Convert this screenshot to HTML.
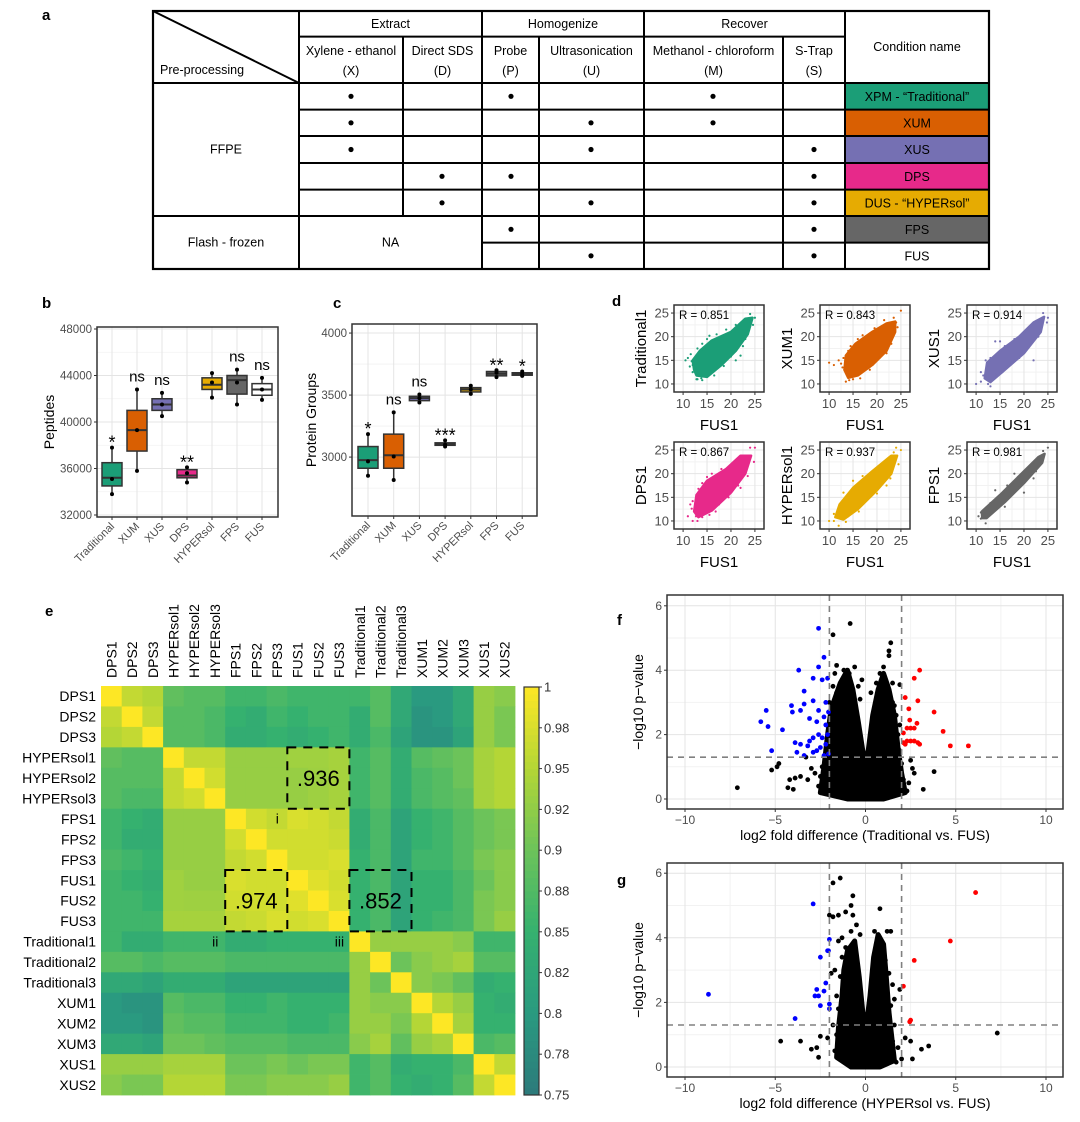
<!DOCTYPE html>
<html><head><meta charset="utf-8"><style>
html,body{margin:0;padding:0;background:#fff;}
svg{display:block;font-family:"Liberation Sans",Arial,sans-serif;}
</style></head><body>
<svg id="fig" width="1080" height="1122" viewBox="0 0 1080 1122"></svg>
<script>
const NS='http://www.w3.org/2000/svg';
const svg=document.getElementById('fig');
function mk(tag,attrs,parent){const e=document.createElementNS(NS,tag);for(const k in attrs)e.setAttribute(k,attrs[k]);(parent||svg).appendChild(e);return e;}
function txt(s,attrs,parent){const e=mk('text',attrs,parent);e.textContent=s;return e;}

/* ---------------- data ---------------- */
const condNames=['XPM - \u201CTraditional\u201D','XUM','XUS','DPS','DUS - \u201CHYPERsol\u201D','FPS','FUS'];
const condColors=['#1b9e77','#d95f02','#7570b3','#e7298a','#e6ab02','#666666','#ffffff'];
const condSteps=[['X','P','M'],['X','U','M'],['X','U','S'],['D','P','S'],['D','U','S'],['P','S'],['U','S']];

const bCats=['Traditional','XUM','XUS','DPS','HYPERsol','FPS','FUS'];
const bQ1=[34500,37500,41000,35200,42800,42400,42300];
const bMed=[35200,39300,41500,35400,43200,43600,42800];
const bQ3=[36500,41000,42000,35900,43800,44000,43300];
const bMin=[33800,35800,40500,34800,42100,41500,41900];
const bMax=[37800,42800,42500,36100,44200,44500,43800];
const bPts=[[33800,35100,37800],[35800,39300,42800],[40500,41500,42500],[34800,35600,36100],[42100,43400,44200],[41500,43400,44500],[41900,42800,43800]];
const bSig=['*','ns','ns','**','','ns','ns'];
const bTicks=[32000,36000,40000,44000,48000];

const cQ1=[2910,2910,3455,3095,3525,3655,3660];
const cMed=[2975,3015,3475,3105,3545,3672,3670];
const cQ3=[3085,3185,3490,3115,3560,3690,3680];
const cMin=[2850,2815,3440,3085,3510,3645,3655];
const cMax=[3185,3360,3505,3135,3575,3700,3690];
const cPts=[[2850,2965,3185],[2815,3005,3360],[3440,3475,3505],[3085,3100,3135],[3510,3545,3575],[3645,3680,3700],[3655,3670,3690]];
const cSig=['*','ns','ns','***','','**','*'];
const cTicks=[3000,3500,4000];

const dNames=['Traditional1','XUM1','XUS1','DPS1','HYPERsol1','FPS1'];
const dR=['R = 0.851','R = 0.843','R = 0.914','R = 0.867','R = 0.937','R = 0.981'];
const dColors=['#1b9e77','#d95f02','#7570b3','#e7298a','#e6ab02','#666666'];
const dEnv=[
 [[12.3,13],[12.8,11.8],[15,11.5],[18,14],[21,17],[23.5,20.5],[24.5,24],[23,23.8],[20,21],[16,19.2],[13.5,17],[12,15]],
 [[13.2,13],[14,11.3],[16,11.8],[19,14],[22,17],[23.8,21],[23.8,23.2],[22,22.8],[19,21],[15.5,18.5],[13.5,16]],
 [[11.8,11.2],[13,10.4],[16,13],[20,16.5],[23.5,21],[24.2,24.2],[22,23],[19,20],[15,17],[12.3,14.5]],
 [[12.3,12],[13.2,10.8],[16,12.2],[20,16],[23,20],[24.2,23.8],[22,23.8],[19,21],[15,18.5],[12.8,15.5]],
 [[11.3,10.8],[13,10.3],[16,12.5],[20,16.5],[23,20],[24.2,23.8],[23,23.8],[19,20.5],[15,17],[12.2,13.5]],
 [[11.3,10.6],[12.2,10.6],[16,14],[20,18],[23.8,22.3],[24.3,24.2],[23,23.5],[19,19.5],[15,15.5],[11.2,12]]];
const dOut=[
 [[10.5,15],[11,15.5],[12,14],[13,11],[14,10.8],[21,15],[22,16],[24,24.8],[25,24],[17,20.5],[14,18.5],[11.6,16.3],[12,12.5],[11.8,14.8],[13,17.5],[15,19.5],[16.5,11.8],[18.5,13.8],[20,15.8],[22.5,18],[23,19.5],[12.8,11],[11.4,13.7],[19,21.5],[21,22.5],[24.6,22.5],[15.5,20.2],[13.8,11.2]],
 [[10,14.5],[11,14],[12,15],[13.5,10.5],[15,11],[22,16.5],[24,23],[25,25.5],[16,19.5],[14,17],[12.8,13.5],[13,15.5],[14.5,18],[16.5,11.2],[18.5,13],[20.5,15.5],[23,18.5],[24.3,22],[17,20.3],[19.5,21.8],[12.5,14.3],[14.2,10.8],[21.5,23.5],[23.5,24]],
 [[10,10],[11,10.5],[13,9.5],[14,19],[15,19],[22,15],[24,25],[25,24],[12,15],[11,12.5],[11.5,11.8],[12.5,10],[14,12],[13,15.5],[17,14.5],[19,15.5],[21,18],[23,20],[24.8,23],[16,18],[20,21],[12.2,13.8],[15.5,12.5],[18,19.5]],
 [[11,11],[12,10],[13,10],[22,17],[24,25.5],[25,25.5],[16,20],[14,18],[11.5,13.5],[12,14.2],[12.7,11],[14,10.8],[15.5,11.3],[17.5,13.5],[19.5,15],[21.5,17.5],[23.5,19.5],[24.8,22.5],[21,22.8],[18,21],[13.2,16.8],[11.8,12.6],[16.8,12],[15,19.3]],
 [[10,10],[11,10],[12,9],[22,17.5],[24,25.5],[25,25],[15,18.5],[13,16],[11,11.5],[12.5,13],[14,11],[16.2,12],[18,14.5],[20,15.8],[22.8,19],[24.5,22],[21,21.5],[17,19.5],[12,12],[13.5,9.8],[23.5,24.5]],
 [[10.5,11],[11,10.5],[12,9.5],[14,16.5],[16,13],[20,16],[22,19],[24,24.8],[25,25.5],[18,20],[11,11.8],[12.5,12.5],[13.5,12],[15,14.8],[17,15],[19,17.5],[21,19.8],[22.5,20.5],[16.5,17.5],[13,13.8]]];

const hmLabels=['DPS1','DPS2','DPS3','HYPERsol1','HYPERsol2','HYPERsol3','FPS1','FPS2','FPS3','FUS1','FUS2','FUS3','Traditional1','Traditional2','Traditional3','XUM1','XUM2','XUM3','XUS1','XUS2'];
const hmValues=[
[1,.96,.95,.89,.88,.88,.86,.86,.87,.86,.86,.86,.86,.88,.83,.80,.80,.83,.93,.92],
[.96,1,.96,.88,.88,.87,.85,.84,.86,.85,.86,.86,.84,.88,.83,.79,.80,.83,.93,.91],
[.95,.96,1,.88,.88,.87,.84,.84,.85,.84,.85,.86,.84,.87,.82,.79,.79,.82,.93,.91],
[.89,.88,.88,1,.96,.96,.93,.93,.93,.936,.936,.94,.86,.88,.84,.88,.89,.90,.94,.95],
[.88,.88,.88,.96,1,.97,.93,.93,.93,.93,.935,.94,.86,.88,.84,.87,.88,.90,.94,.95],
[.88,.87,.87,.96,.97,1,.93,.93,.93,.93,.935,.94,.86,.88,.84,.87,.88,.89,.94,.95],
[.86,.85,.84,.93,.93,.93,1,.97,.96,.975,.97,.96,.84,.87,.82,.85,.86,.88,.90,.91],
[.86,.84,.84,.93,.93,.93,.97,1,.97,.97,.97,.965,.84,.87,.82,.85,.86,.88,.90,.91],
[.87,.86,.85,.93,.93,.93,.96,.97,1,.97,.97,.975,.85,.87,.82,.86,.86,.88,.91,.92],
[.86,.85,.84,.936,.93,.93,.975,.97,.97,1,.98,.97,.85,.87,.82,.85,.85,.87,.90,.92],
[.86,.86,.85,.936,.935,.935,.97,.97,.97,.98,1,.975,.85,.87,.82,.85,.85,.87,.91,.92],
[.86,.86,.86,.94,.94,.94,.96,.965,.975,.97,.975,1,.85,.87,.82,.85,.86,.87,.91,.93],
[.86,.84,.84,.86,.86,.86,.84,.84,.85,.85,.85,.85,1,.93,.93,.93,.93,.92,.86,.86],
[.88,.88,.87,.88,.88,.88,.87,.87,.87,.87,.87,.87,.93,1,.90,.92,.93,.94,.88,.88],
[.83,.83,.82,.84,.84,.84,.82,.82,.82,.82,.82,.82,.93,.90,1,.92,.91,.89,.84,.85],
[.80,.79,.79,.88,.87,.87,.85,.85,.86,.85,.85,.85,.93,.92,.92,1,.95,.93,.85,.84],
[.80,.80,.79,.89,.88,.88,.86,.86,.86,.85,.85,.86,.93,.93,.91,.95,1,.94,.85,.85],
[.83,.83,.82,.90,.90,.89,.88,.88,.88,.87,.87,.87,.92,.94,.89,.93,.94,1,.87,.88],
[.93,.93,.93,.94,.94,.94,.90,.90,.91,.90,.91,.91,.86,.88,.84,.85,.85,.87,1,.96],
[.92,.91,.91,.95,.95,.95,.91,.91,.92,.92,.92,.93,.86,.88,.85,.84,.85,.88,.96,1]];
const cbTicks=[1,0.975,0.95,0.925,0.9,0.875,0.85,0.825,0.8,0.775,0.75];
const cbTickLabels=['1','0.98','0.95','0.92','0.9','0.88','0.85','0.82','0.8','0.78','0.75'];
const hmBoxes=[{c0:9,r0:3,label:'.936',tag:'i'},{c0:6,r0:9,label:'.974',tag:'ii'},{c0:12,r0:9,label:'.852',tag:'iii'}];

const fBlue=[[-2.6,5.3],[-2.3,4.4],[-2.6,4.1],[-3.7,4.0],[-2.9,3.75],[-2.4,3.7],[-2.1,3.75],[-3.4,3.35],[-2.9,3.05],[-2.2,3.0],[-5.5,2.75],[-4.1,2.9],[-4.05,2.7],[-3.6,2.75],[-3.4,2.95],[-2.6,2.75],[-2.3,2.55],[-5.8,2.4],[-5.4,2.25],[-4.6,2.15],[-3.1,2.5],[-2.7,2.4],[-2.2,2.3],[-3.9,1.75],[-3.6,1.7],[-3.1,1.8],[-2.9,1.9],[-2.6,2.0],[-2.4,1.9],[-2.2,1.7],[-2.5,1.6],[-3.2,1.65],[-2.9,1.45],[-3.8,1.45],[-5.2,1.5],[-2.7,1.5],[-3.4,1.35],[-2.3,1.35],[-2.05,1.4],[-2.1,2.0],[-2.05,2.7]];
const fRed=[[3.0,4.0],[2.7,3.75],[2.2,3.15],[2.9,3.05],[3.8,2.7],[2.4,2.8],[2.45,2.45],[2.85,2.35],[2.3,2.2],[2.5,2.2],[2.7,2.2],[2.1,2.05],[4.3,2.1],[2.1,1.75],[2.3,1.8],[2.5,1.8],[2.7,1.8],[2.9,1.75],[3.0,1.7],[4.7,1.65],[5.7,1.65],[2.2,1.7]];
const fBlack=[[-0.85,5.45],[-1.8,5.1],[1.4,4.85],[1.3,4.6],[1.3,4.45],[-1.6,4.15],[-0.6,4.1],[-0.2,3.7],[1.0,4.1],[1.5,3.6],[1.9,3.55],[-1.7,3.9],[-7.1,0.35],[-5.2,0.9],[-4.9,1.0],[-4.8,1.1],[-4.3,0.35],[-4.0,0.3],[-4.2,0.6],[-3.9,0.65],[-3.6,0.7],[-3.2,0.6],[-3.0,0.95],[-2.8,0.8],[-3.3,1.3],[-2.2,0.25],[3.8,0.85],[3.2,0.3],[2.3,0.25],[1.9,0.3],[2.6,0.95],[2.7,0.8],[2.5,1.2],[1.4,0.1],[0.8,0.05],[-1.5,0.4],[-1.9,0.5],[-2.4,1.0],[-1.0,2.8],[0.5,2.8],[1.6,2.9],[-1.9,1.8],[-2.0,2.4],[1.8,2.0],[1.9,1.5],
 [-1.8,3.5],[-1.6,3.3],[-1.2,4.0],[-0.9,3.9],[-0.4,3.5],[-0.3,3.1],[0.3,3.3],[0.6,3.6],[0.8,3.9],[1.2,3.2],[1.5,3.0],[1.7,2.6],[1.9,2.3],[2.0,1.1],[2.1,0.6],[-2.1,1.2],[-2.3,0.6],[-2.6,0.4],[-2.0,3.0],[-1.5,2.2],[-0.3,1.9],[0.2,1.6],[1.1,1.8],[-0.5,0.2],[0.4,0.2],[-2.5,0.7],[2.4,0.5],[1.7,0.6],[-1.2,0.1]];
const fEnv=[[-2.5,0.2],[-2.3,1.0],[-2.1,2.0],[-1.9,2.8],[-1.4,3.6],[-1.0,4.0],[-0.7,3.4],[-0.4,2.4],[-0.15,1.5],[0,1.1],[0.15,1.5],[0.4,2.6],[0.7,3.4],[1.0,3.9],[1.3,3.4],[1.6,2.6],[1.8,1.6],[2.0,0.8],[2.2,0.2],[1.0,0],[-1.0,0]];
const gBlue=[[-2.9,5.05],[-2.0,3.95],[-2.1,3.6],[-2.05,3.6],[-2.5,3.4],[-2.2,2.6],[-2.3,2.35],[-2.7,2.4],[-2.8,2.2],[-2.6,2.2],[-2.0,1.95],[-2.0,1.8],[-2.5,1.9],[-3.9,1.5],[-8.7,2.25]];
const gRed=[[6.1,5.4],[4.7,3.9],[2.7,3.3],[2.1,2.5],[2.5,1.45],[2.45,1.4]];
const gBlack=[[-1.4,5.85],[-1.8,5.7],[-0.7,5.3],[-0.8,5.0],[0.8,4.9],[-1.1,4.8],[-1.5,4.7],[-2.0,4.7],[-1.8,4.65],[-0.7,4.7],[-0.5,4.4],[1.2,4.2],[1.4,4.2],[-0.3,4.1],[0.5,4.2],[-1.5,3.9],[-1.3,4.0],[-4.7,0.8],[-3.6,0.8],[-3.0,0.55],[-2.6,0.3],[-2.7,0.6],[-2.5,0.95],[7.3,1.05],[3.5,0.65],[3.1,0.55],[2.5,0.8],[2.6,0.25],[2.0,0.25],[1.8,0.6],[2.2,0.9],[1.6,1.3],[1.9,2.4],[1.5,2.55],[1.6,2.1],[-2.1,0.9],[-1.8,1.3],[-1.9,2.9],[-1.7,3.0],[1.2,0.3],[1.7,0.15],[-1.4,0.4],[-1.2,2.4],
 [-1.3,3.4],[-1.1,3.7],[-0.8,4.2],[-0.6,3.9],[0.6,3.8],[0.9,3.7],[1.1,3.3],[1.3,2.9],[1.4,1.9],[1.2,1.4],[-1.5,1.8],[-1.4,2.8],[-1.6,2.2],[-1.6,1.0],[-1.7,0.5],[1.5,0.8],[1.3,0.5],[-0.9,0.2],[0.9,0.15],[-1.2,1.2]];
const gEnv=[[-1.6,0.3],[-1.5,1.2],[-1.3,2.2],[-1.2,3.0],[-1.0,3.6],[-0.6,3.9],[-0.35,2.8],[-0.15,1.7],[0.05,1.3],[0.25,2.2],[0.45,3.4],[0.7,4.1],[1.0,3.8],[1.15,2.8],[1.3,1.7],[1.5,0.7],[1.6,0.2],[0.8,0],[-0.8,0]];
const vxTicks=[-10,-5,0,5,10];
const vxTickLabels=['\u221210','\u22125','0','5','10'];
const vyTicks=[0,2,4,6];

/* ---------------- panel letters ---------------- */
[['a',42,20],['b',42,308],['c',333,308],['d',612,306],['e',45,616],['f',617,625],['g',617,885]].forEach(p=>{
 const t=txt(p[0],{x:p[1],y:p[2],'font-size':15,'font-weight':'bold'});
 
 
});

/* ---------------- panel a table ---------------- */
(function(){
 const g=mk('g',{});
 
 
 const X=[153,299,403,482,539,644,783,845,989];
 const Y=[11,36.6,83,109.6,136,163,189.6,216,242.6,269];
 const colC={X:351,D:442,P:511,U:591,M:713,S:814};
 condNames.forEach((n,i)=>{
  const r=mk('rect',{x:X[7],y:Y[i+2],width:X[8]-X[7],height:Y[i+3]-Y[i+2],fill:condColors[i]},g);
  
  
  const t=txt(n,{x:(X[7]+X[8])/2,y:(Y[i+2]+Y[i+3])/2+4.5,'text-anchor':'middle','font-size':12.5},g);
  
  
 });
 const L=(x1,y1,x2,y2)=>{const l=mk('line',{x1,y1,x2,y2,stroke:'#000','stroke-width':2},g);return l;};
 const o=mk('rect',{x:X[0],y:Y[0],width:X[8]-X[0],height:Y[9]-Y[0],fill:'none',stroke:'#000','stroke-width':2.2},g);
 
 
 L(X[0],Y[0],X[1],Y[2]);
 [1,3,5,7].forEach(c=>L(X[c],Y[0],X[c],Y[9]));
 [2,4,6].forEach(c=>L(X[c],Y[1],X[c],Y[2]));
 L(X[1],Y[1],X[7],Y[1]);
 L(X[0],Y[2],X[8],Y[2]);
 L(X[2],Y[2],X[2],Y[7]);
 [4,6].forEach(c=>L(X[c],Y[2],X[c],Y[9]));
 for(let r=3;r<=6;r++)L(X[1],Y[r],X[8],Y[r]);
 L(X[0],Y[7],X[8],Y[7]);
 L(X[3],Y[8],X[8],Y[8]);
 const T=(s,x,y,name)=>{const t=txt(s,{x,y,'text-anchor':'middle','font-size':12.5},g);};
 T('Extract',(X[1]+X[3])/2,28,'header-extract');
 T('Homogenize',(X[3]+X[5])/2,28,'header-homogenize');
 T('Recover',(X[5]+X[7])/2,28,'header-recover');
 T('Condition name',(X[7]+X[8])/2,51,'header-condition-name');
 const h2=[['Xylene - ethanol','(X)'],['Direct SDS','(D)'],['Probe','(P)'],['Ultrasonication','(U)'],['Methanol - chloroform','(M)'],['S-Trap','(S)']];
 h2.forEach((h,i)=>{T(h[0],(X[i+1]+X[i+2])/2,55,'header-method');T(h[1],(X[i+1]+X[i+2])/2,75,'header-abbrev');});
 const pp=txt('Pre-processing',{x:160,y:74,'font-size':12.5},g);
 
 
 T('FFPE',(X[0]+X[1])/2,(Y[2]+Y[7])/2+4,'row-ffpe');
 T('Flash - frozen',(X[0]+X[1])/2,(Y[7]+Y[9])/2+4,'row-flash-frozen');
 T('NA',(X[1]+X[3])/2,(Y[7]+Y[9])/2+4,'row-na');
 condSteps.forEach((steps,i)=>steps.forEach(s=>{
  const c=mk('circle',{cx:colC[s],cy:(Y[i+2]+Y[i+3])/2,r:2.6,fill:'#000'},g);
  
  
 }));
})();

/* ---------------- boxplots ---------------- */
function boxplot(o){
 const g=mk('g',{});
 
 
 const ys=v=>o.y1-(v-o.d0)/(o.d1-o.d0)*(o.y1-o.y0);
 const xs=i=>o.xc0+i*o.dx;
 mk('rect',{x:o.x0,y:o.y0,width:o.x1-o.x0,height:o.y1-o.y0,fill:'#fff'},g);
 o.minor.forEach(v=>mk('line',{x1:o.x0,x2:o.x1,y1:ys(v),y2:ys(v),stroke:'#f2f2f2','stroke-width':0.8},g));
 o.ticks.forEach(v=>mk('line',{x1:o.x0,x2:o.x1,y1:ys(v),y2:ys(v),stroke:'#e4e4e4','stroke-width':1},g));
 o.cats.forEach((c,i)=>mk('line',{x1:xs(i),x2:xs(i),y1:o.y0,y2:o.y1,stroke:'#e4e4e4','stroke-width':1},g));
 o.cats.forEach((c,i)=>{
  const bg=mk('g',{},g);
  
  
  const x=xs(i),w=o.bw;
  mk('line',{x1:x,x2:x,y1:ys(o.mn[i]),y2:ys(o.mx[i]),stroke:'#333','stroke-width':1.5},bg);
  mk('rect',{x:x-w/2,y:ys(o.q3[i]),width:w,height:Math.max(ys(o.q1[i])-ys(o.q3[i]),2),fill:condColors[i],stroke:'#333','stroke-width':1.5},bg);
  mk('line',{x1:x-w/2,x2:x+w/2,y1:ys(o.md[i]),y2:ys(o.md[i]),stroke:'#333','stroke-width':2},bg);
  o.pts[i].forEach(v=>mk('circle',{cx:x,cy:ys(v),r:2,fill:'#000'},bg));
  if(o.sig[i]){const t=txt(o.sig[i],{x,y:ys(o.mx[i])-(o.sig[i]==='ns'?8:-1),'text-anchor':'middle','font-size':o.sig[i]==='ns'?15:18},g);
   
   }
  const lab=txt(c,{x:x+3,y:o.y1+10,'text-anchor':'end','font-size':11,fill:'#4d4d4d',transform:`rotate(-45 ${x+3} ${o.y1+10})`},g);
  
  
  mk('line',{x1:x,x2:x,y1:o.y1,y2:o.y1+3,stroke:'#333'},g);
 });
 const fr=mk('rect',{x:o.x0,y:o.y0,width:o.x1-o.x0,height:o.y1-o.y0,fill:'none',stroke:'#333','stroke-width':1.5},g);
 
 
 o.ticks.forEach(v=>{
  mk('line',{x1:o.x0-3,x2:o.x0,y1:ys(v),y2:ys(v),stroke:'#333'},g);
  const t=txt(String(v),{x:o.x0-5,y:ys(v)+4,'text-anchor':'end','font-size':11.5,fill:'#4d4d4d'},g);
  
  
 });
 const yt=txt(o.ytitle,{x:o.ytx,y:(o.y0+o.y1)/2,'text-anchor':'middle','font-size':14,transform:`rotate(-90 ${o.ytx} ${(o.y0+o.y1)/2})`},g);
 
 
}
boxplot({name:'peptides-boxplot',x0:97,x1:278,y0:327,y1:517,d0:31828,d1:48172,xc0:112,dx:25,bw:20,cats:bCats,q1:bQ1,md:bMed,q3:bQ3,mn:bMin,mx:bMax,pts:bPts,sig:bSig,ticks:bTicks,minor:[34000,38000,42000,46000],ytitle:'Peptides',ytx:54});
boxplot({name:'protein-groups-boxplot',x0:352,x1:537,y0:324,y1:516,d0:2525,d1:4073,xc0:368,dx:25.7,bw:20,cats:bCats,q1:cQ1,md:cMed,q3:cQ3,mn:cMin,mx:cMax,pts:cPts,sig:cSig,ticks:cTicks,minor:[2750,3250,3750],ytitle:'Protein Groups',ytx:316});

/* ---------------- panel d scatter ---------------- */
(function(){
 const lefts=[674,820,967],tops=[305,442],W=90,H=87;
 dNames.forEach((nm,k)=>{
  const g=mk('g',{});
  
  
  const x0=lefts[k%3],y0=tops[Math.floor(k/3)];
  const xs=v=>x0+(v-8.1)/(26.9-8.1)*W, ys=v=>y0+H-(v-8.3)/(26.7-8.3)*H;
  mk('rect',{x:x0,y:y0,width:W,height:H,fill:'#fff'},g);
  [12.5,17.5,22.5].forEach(v=>{mk('line',{x1:xs(v),x2:xs(v),y1:y0,y2:y0+H,stroke:'#f2f2f2'},g);mk('line',{x1:x0,x2:x0+W,y1:ys(v),y2:ys(v),stroke:'#f2f2f2'},g);});
  [10,15,20,25].forEach(v=>{mk('line',{x1:xs(v),x2:xs(v),y1:y0,y2:y0+H,stroke:'#e4e4e4'},g);mk('line',{x1:x0,x2:x0+W,y1:ys(v),y2:ys(v),stroke:'#e4e4e4'},g);});
  const env=mk('polygon',{points:dEnv[k].map(p=>xs(p[0])+','+ys(p[1])).join(' '),fill:dColors[k],stroke:dColors[k],'stroke-width':2.5,'stroke-linejoin':'round'},g);
  
  
  dOut[k].forEach(p=>{const c=mk('circle',{cx:xs(p[0]),cy:ys(p[1]),r:1.1,fill:dColors[k]},g);
   
   });
  mk('rect',{x:x0,y:y0,width:W,height:H,fill:'none',stroke:'#333','stroke-width':1.5},g);
  const r=txt(dR[k],{x:x0+5,y:y0+14,'font-size':11.5},g);
  
  
  [10,15,20,25].forEach(v=>{
   mk('line',{x1:xs(v),x2:xs(v),y1:y0+H,y2:y0+H+3,stroke:'#333'},g);
   mk('line',{x1:x0-3,x2:x0,y1:ys(v),y2:ys(v),stroke:'#333'},g);
   const a=txt(String(v),{x:xs(v),y:y0+H+16,'text-anchor':'middle','font-size':13,fill:'#4d4d4d'},g);
   
   
   const b=txt(String(v),{x:x0-5,y:ys(v)+4.5,'text-anchor':'end','font-size':13,fill:'#4d4d4d'},g);
   
   
  });
  const xt=txt('FUS1',{x:x0+W/2,y:y0+H+38,'text-anchor':'middle','font-size':15},g);
  
  
  const ytx=x0-28,yc=y0+H/2;
  const yt=txt(nm,{x:ytx,y:yc,'text-anchor':'middle','font-size':15,transform:`rotate(-90 ${ytx} ${yc})`},g);
  
  
 });
})();

/* ---------------- panel e heatmap ---------------- */
(function(){
 const g=mk('g',{});
 
 
 const L=101,T=686,cw=20.7,ch=20.45;
 const stops=[[0.75,[44,122,123]],[0.8,[42,154,128]],[0.85,[53,177,111]],[0.9,[108,195,90]],[0.95,[180,214,54]],[1,[253,231,37]]];
 const col=v=>{v=Math.max(0.75,Math.min(1,v));for(let i=0;i<stops.length-1;i++){const a=stops[i],b=stops[i+1];if(v<=b[0]){const t=(v-a[0])/(b[0]-a[0]);return 'rgb('+a[1].map((c,j)=>Math.round(c+(b[1][j]-c)*t)).join(',')+')';}}return 'rgb(253,231,37)';};
 hmValues.forEach((row,r)=>row.forEach((v,c)=>{
  const cell=mk('rect',{x:L+c*cw,y:T+r*ch,width:cw+0.4,height:ch+0.4,fill:col(v)},g);
  
  
 }));
 hmLabels.forEach((s,i)=>{
  const t=txt(s,{x:L-5,y:T+i*ch+ch/2+5,'text-anchor':'end','font-size':14},g);
  
  
  const cx=L+i*cw+cw/2+5,cy=T-8;
  const u=txt(s,{x:cx,y:cy,'font-size':14,transform:`rotate(-90 ${cx} ${cy})`},g);
  
  
 });
 hmBoxes.forEach(b=>{
  const bx=mk('rect',{x:L+b.c0*cw,y:T+b.r0*ch,width:3*cw,height:3*ch,fill:'none',stroke:'#000','stroke-width':2,'stroke-dasharray':'9,7'},g);
  
  
  const t=txt(b.label,{x:L+(b.c0+1.5)*cw,y:T+(b.r0+1.5)*ch+8,'text-anchor':'middle','font-size':22},g);
  
  
  const tg=txt(b.tag,{x:L+b.c0*cw-10,y:T+(b.r0+3)*ch+15,'text-anchor':'middle','font-size':14},g);
  
  
 });
 const cb=mk('g',{},g);
 
 
 const cbx=524,cbw=15,cbt=687,cbb=1095;
 const cys=v=>cbb-(v-0.75)/0.25*(cbb-cbt);
 for(let i=0;i<60;i++){const v0=0.75+i*0.25/60;mk('rect',{x:cbx,y:cys(v0+0.25/60),width:cbw,height:(cbb-cbt)/60+0.5,fill:col(v0+0.125/60)},cb);}
 mk('rect',{x:cbx,y:cbt,width:cbw,height:cbb-cbt,fill:'none',stroke:'#333','stroke-width':1.2},cb);
 cbTicks.forEach((v,i)=>{
  mk('line',{x1:cbx+cbw,x2:cbx+cbw+3,y1:cys(v),y2:cys(v),stroke:'#333'},cb);
  const t=txt(cbTickLabels[i],{x:cbx+cbw+5,y:cys(v)+4.5,'font-size':13,fill:'#333'},cb);
  
  
 });
})();

/* ---------------- volcano plots ---------------- */
function volcano(o){
 const g=mk('g',{});
 
 
 const x0=667,x1=1063;
 const xs=v=>865.5+v*18.05, ys=v=>o.zero-v*o.py;
 mk('rect',{x:x0,y:o.y0,width:x1-x0,height:o.y1-o.y0,fill:'#fff'},g);
 [-7.5,-2.5,2.5,7.5].forEach(v=>mk('line',{x1:xs(v),x2:xs(v),y1:o.y0,y2:o.y1,stroke:'#f2f2f2'},g));
 [1,3,5].forEach(v=>mk('line',{x1:x0,x2:x1,y1:ys(v),y2:ys(v),stroke:'#f2f2f2'},g));
 vxTicks.forEach(v=>mk('line',{x1:xs(v),x2:xs(v),y1:o.y0,y2:o.y1,stroke:'#e4e4e4'},g));
 vyTicks.forEach(v=>mk('line',{x1:x0,x2:x1,y1:ys(v),y2:ys(v),stroke:'#e4e4e4'},g));
 const env=mk('polygon',{points:o.env.map(p=>xs(p[0])+','+ys(p[1])).join(' '),fill:'#000',stroke:'#000','stroke-width':5,'stroke-linejoin':'round'},g);
 
 
 [[o.black,'#000','nonsignificant-point'],[o.blue,'#0000ff','down-regulated-point'],[o.red,'#ff0000','up-regulated-point']].forEach(s=>s[0].forEach(p=>{
  const c=mk('circle',{cx:xs(p[0]),cy:ys(p[1]),r:2.4,fill:s[1]},g);
  
  
 }));
 [-2,2].forEach(v=>{const l=mk('line',{x1:xs(v),x2:xs(v),y1:o.y0,y2:o.y1,stroke:'#808080','stroke-width':1.6,'stroke-dasharray':'6,5'},g);
  
  });
 const h=mk('line',{x1:x0,x2:x1,y1:ys(1.3),y2:ys(1.3),stroke:'#808080','stroke-width':1.6,'stroke-dasharray':'6,5'},g);
 
 
 mk('rect',{x:x0,y:o.y0,width:x1-x0,height:o.y1-o.y0,fill:'none',stroke:'#333','stroke-width':1.5},g);
 vxTicks.forEach((v,i)=>{
  mk('line',{x1:xs(v),x2:xs(v),y1:o.y1,y2:o.y1+3,stroke:'#333'},g);
  const t=txt(vxTickLabels[i],{x:xs(v),y:o.y1+15,'text-anchor':'middle','font-size':12,fill:'#4d4d4d'},g);
  
  
 });
 vyTicks.forEach(v=>{
  mk('line',{x1:x0-3,x2:x0,y1:ys(v),y2:ys(v),stroke:'#333'},g);
  const t=txt(String(v),{x:x0-5,y:ys(v)+4,'text-anchor':'end','font-size':12,fill:'#4d4d4d'},g);
  
  
 });
 const xt=txt(o.xtitle,{x:(x0+x1)/2,y:o.y1+31,'text-anchor':'middle','font-size':14},g);
 
 
 const yc=(o.y0+o.y1)/2;
 const yt=txt('\u2212log10 p\u2212value',{x:643,y:yc,'text-anchor':'middle','font-size':14,transform:`rotate(-90 643 ${yc})`},g);
 
 
}
volcano({name:'volcano-traditional-vs-fus',y0:595,y1:809,zero:799,py:32.2,env:fEnv,black:fBlack,blue:fBlue,red:fRed,xtitle:'log2 fold difference (Traditional vs. FUS)'});
volcano({name:'volcano-hypersol-vs-fus',y0:863,y1:1077,zero:1067,py:32.3,env:gEnv,black:gBlack,blue:gBlue,red:gRed,xtitle:'log2 fold difference (HYPERsol vs. FUS)'});
</script>
</body></html>
